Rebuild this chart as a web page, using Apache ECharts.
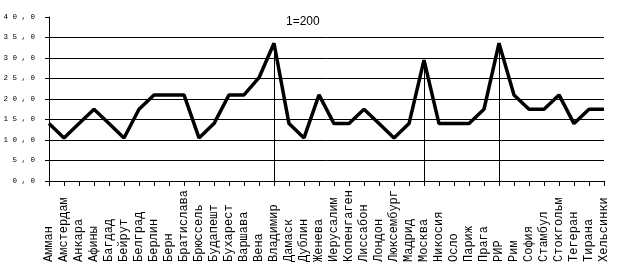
<!DOCTYPE html>
<html><head><meta charset="utf-8">
<script src="https://cdn.jsdelivr.net/npm/echarts@6/dist/echarts.min.js"></script>
<style>html,body{margin:0;padding:0;background:#fff}#c{width:624px;height:271px}</style>
</head><body><div id="c"></div>
<script>
const categories = ['Амман','Амстердам','Анкара','Афины','Багдад','Бейрут','Белград','Берлин','Берн','Братислава','Брюссель','Будапешт','Бухарест','Варшава','Вена','Владимир','Дамаск','Дублин','Женева','Иерусалим','Копенгаген','Лиссабон','Лондон','Люксембург','Мадрид','Москва','Никосия','Осло','Париж','Прага','РИР','Рим','София','Стамбул','Стокгольм','Тегеран','Тирана','Хельсинки'];
const values = [14,10.5,14,17.5,14,10.5,17.5,21,21,21,10.5,14,21,21,25.2,33.6,14,10.5,21,14,14,17.5,14,10.5,14,29.5,14,14,14,17.5,33.6,21,17.5,17.5,21,14,17.5,17.5];
const gridValues = [5,10,15,20,25,30,35];
const dropLineCats = ['Владимир','Москва','РИР'];
const titleText = '1=200';

const chart = echarts.init(document.getElementById('c'));
const markData = gridValues.map(v => ({yAxis: v}));
dropLineCats.forEach(c => {
  const i = categories.indexOf(c);
  markData.push([{coord:[i,0]},{coord:[i,values[i]]}]);
});
chart.setOption({
  animation:false,
  title:{text:titleText,left:281,top:11,textStyle:{fontFamily:'Liberation Sans',fontSize:12,fontWeight:'normal',color:'#000'}},
  grid:{left:49,right:20,top:17,bottom:90},
  xAxis:{type:'category',data:categories,boundaryGap:false,
    axisLine:{lineStyle:{color:'#000',width:1}},
    axisTick:{show:true,length:5,interval:0,lineStyle:{color:'#000'}},
    axisLabel:{interval:0,rotate:90,align:'left',verticalAlign:'middle',margin:81,fontFamily:'Liberation Mono',fontSize:12,color:'#000'},
    splitLine:{show:false}},
  yAxis:{type:'value',min:0,max:40,interval:5,
    axisLine:{show:true,lineStyle:{color:'#000',width:1}},
    axisTick:{show:true,length:4,lineStyle:{color:'#000'}},
    axisLabel:{margin:14,fontFamily:'Liberation Mono',fontSize:7.5,color:'#000',
      formatter:v=>v.toFixed(1).replace('.',',').split('').join(' ')},
    splitLine:{show:false}},
  series:[{type:'line',data:values,symbol:'none',
    lineStyle:{color:'#000',width:3.5},
    markLine:{silent:true,symbol:'none',label:{show:false},
      lineStyle:{color:'#000',width:1,type:'solid'},data:markData}}]
});
</script></body></html>
